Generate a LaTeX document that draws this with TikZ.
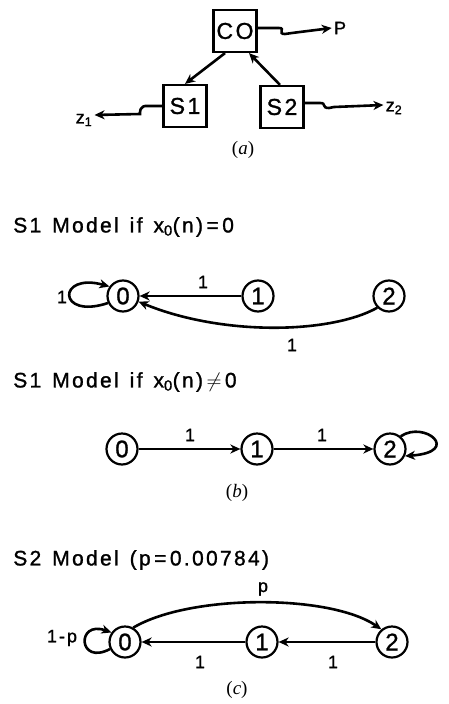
\documentclass[tikz,border=0pt]{standalone}
\usepackage{fontspec}
\setmainfont{Liberation Serif}
\newfontfamily\lettering[LetterSpace=11,FakeBold=1.2]{Liberation Sans}
\usetikzlibrary{arrows.meta}
\newcommand{\wsp}{\hspace{11pt}}
\begin{document}
\begin{tikzpicture}[x=1pt,y=-1pt,
  line width=2.6pt,
  >={Stealth[length=10pt,width=9pt,inset=3pt]},
  blk/.style={draw,line width=2.2pt,minimum width=43pt,minimum height=42pt,inner sep=0pt,font=\lettering\fontsize{23}{23}\selectfont},
  st/.style={draw,line width=2.2pt,circle,minimum size=31pt,inner sep=0pt,font=\lettering\fontsize{24}{24}\selectfont},
  lab/.style={inner sep=1pt,font=\lettering\fontsize{18}{18}\selectfont},
  ttl/.style={anchor=west,inner sep=0pt,font=\lettering\fontsize{21}{21}\selectfont},
  subcap/.style={inner sep=0pt,font=\fontsize{19}{19}\selectfont}]
\useasboundingbox (0,0) rectangle (449,704);

% (a) controller and the two servers
\node[blk] (co) at (235,31) {CO};
\node[blk] (s1) at (185,106) {S1};
\node[blk] (s2) at (282,107) {S2};
\node[lab] (p) at (340,28) {P};
\node[lab] (z1) at (84,120) {z\textsubscript{1}};
\node[lab] (z2) at (394,108) {z\textsubscript{2}};
\coordinate (coout) at (co.east |- 0,28);
\coordinate (s1out) at (s1.west |- 0,106);
\coordinate (s2out) at (s2.east |- 0,103);

\draw[->] ([xshift=-10pt]co.south) -- (s1.north);
\draw[->] ([xshift=-2pt]s2.north) -- ([xshift=14pt]co.south);
\draw[->] (coout) -- (279,28) .. controls (286,28) and (277,34) .. (285,34) -- (292,33) -- (p.west);
\draw[->] (s1out) -- (148,106) .. controls (139,105) and (140,113) .. (140,114) -- (z1.east |- 0,115);
\draw[->] (s2out) -- (320,103) .. controls (327,103) and (321,108) .. (329,108) -- (334,107) -- (z2.west |- 0,105);
\node[subcap] (capa) at (243,150) {(\textit{a})};

% (b) first S1 model
\node[ttl] (t1) at (12,227) {S1\wsp Model\wsp if\wsp x\textsubscript{0}(n)\,=\,0};
\node[st] (b0) at (123,296) {0};
\node[st] (b1) at (258,296) {1};
\node[st] (b2) at (389,296) {2};
\draw[->] (b1) -- (b0);
\node[lab] (lb1) at (203,282) {1};
\draw[->] (b2.225) .. controls (330,334) and (222,336) .. (b0.-20);
\node[lab] (lb2) at (292,345) {1};
\draw[->] (b0.205) .. controls (57,320) and (57,272) .. (b0.145);
\node[lab] (lb0) at (62,297) {1};

% (b) second S1 model
\node[ttl] (t2) at (12,382) {S1\wsp Model\wsp if\wsp x\textsubscript{0}(n)\,$\neq$\,0};
\node[st] (d0) at (122,449) {0};
\node[st] (d1) at (257,449) {1};
\node[st] (d2) at (390,449) {2};
\draw[->] (d0) -- (d1);
\draw[->] (d1) -- (d2);
\node[lab] (ld1) at (190,435) {1};
\node[lab] (ld2) at (322,435) {1};
\draw[->] (d2.50) .. controls (425,420) and (462,452) .. (d2.-25);
\node[subcap] (capb) at (237,493) {(\textit{b})};

% (c) S2 model
\node[ttl] (t3) at (12,560) {S2\wsp Model\wsp (p\,=\,0.00784)};
\node[st] (e0) at (125,642) {0};
\node[st] (e1) at (262,642) {1};
\node[st] (e2) at (392,642) {2};
\draw[->] (e0.60) .. controls (190,594) and (330,594) .. (e2.130);
\node[lab] (lp) at (263,589) {p};
\draw[->] (e1) -- (e0);
\draw[->] (e2) -- (e1);
\node[lab] (le1) at (200,662) {1};
\node[lab] (le2) at (333,662) {1};
\draw[->] (e0.205) .. controls (78,666) and (76,620) .. (e0.145);
\node[lab] (le0) at (62,638) {1-p};
\node[subcap] (capc) at (237,690) {(\textit{c})};
\end{tikzpicture}
\end{document}
